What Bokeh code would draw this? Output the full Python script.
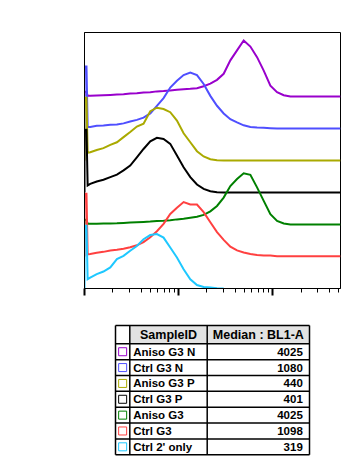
from bokeh.plotting import figure
from bokeh.models import FixedTicker, CustomJSTickFormatter, Range1d
from bokeh.layouts import column
from bokeh.embed import file_html
from bokeh.resources import INLINE
from bokeh.core.properties import value

# ---------------- data ----------------
samples = ["Aniso G3 N", "Ctrl G3 N", "Aniso G3 P", "Ctrl G3 P", "Aniso G3", "Ctrl G3", "Ctrl 2' only"]
medians = [4025, 1080, 440, 401, 4025, 1098, 319]
colors = ["#9900CC", "#4F4FFF", "#AAAA00", "#000000", "#008000", "#FF4040", "#1EC8FF"]

# BL1-A positions of the low-end pile-up bin and of the histogram samples
spike_x = [100, 100, 105, 108]
bl1a_x = [115, 135, 159, 188, 221, 260, 306, 360, 424, 500, 588, 692, 815, 960,
          1130, 1331, 1567, 1845, 2173, 2558, 3012, 3546, 4175, 4915, 5787, 6814,
          8023, 9445, 11120, 13093, 15415, 18150, 21370, 25160, 29620, 34880,
          41070, 48350, 52500]

# normalized counts (peak ~1.75) per sample
spike_heights = [0.15, 1.94, 1.96, 1.96, 0.15, 1.96, 1.96]
first_bins = [0.02, 0.05, 0.24, 0.22, 0.02, 0.07, 0.29]

aniso_g3_n = [0.02, 0.03, 0.04, 0.05, 0.06, 0.07, 0.09, 0.10, 0.125, 0.135, 0.16, 0.17,
              0.19, 0.21, 0.23, 0.24, 0.26, 0.32, 0.40, 0.52, 0.71, 1.13, 1.44, 1.75,
              1.56, 1.23, 0.81, 0.34, 0.135, 0.04, 0, 0, 0, 0, 0, 0, 0, 0, 0]
ctrl_g3_n = [0.05, 0.085, 0.095, 0.115, 0.125, 0.16, 0.22, 0.27, 0.34, 0.47, 0.71, 0.95,
             1.28, 1.49, 1.67, 1.75, 1.67, 1.39, 1.02, 0.71, 0.47, 0.29, 0.19, 0.10,
             0.05, 0.03, 0.02, 0.01, 0, 0, 0, 0, 0, 0, 0, 0, 0, 0, 0]
aniso_g3_p = [0.26, 0.33, 0.385, 0.49, 0.57, 0.73, 0.89, 1.06, 1.15, 1.54, 1.65, 1.61,
              1.51, 1.25, 0.85, 0.57, 0.29, 0.125, 0.04, 0.01, 0, 0, 0, 0, 0, 0, 0,
              0, 0, 0, 0, 0, 0, 0, 0, 0, 0, 0, 0]
ctrl_g3_p = [0.27, 0.345, 0.40, 0.48, 0.56, 0.69, 0.84, 1.10, 1.36, 1.60, 1.71, 1.67,
             1.52, 1.16, 0.79, 0.48, 0.25, 0.115, 0.04, 0.01, 0, 0, 0, 0, 0, 0, 0,
             0, 0, 0, 0, 0, 0, 0, 0, 0, 0, 0, 0]
aniso_g3 = [0.02, 0.025, 0.03, 0.035, 0.04, 0.05, 0.06, 0.07, 0.08, 0.09, 0.11, 0.12,
            0.135, 0.16, 0.18, 0.21, 0.24, 0.30, 0.41, 0.58, 0.84, 1.20, 1.42, 1.60,
            1.55, 1.16, 0.74, 0.32, 0.11, 0.03, 0, 0, 0, 0, 0, 0, 0, 0, 0]
ctrl_g3 = [0.08, 0.115, 0.145, 0.19, 0.21, 0.24, 0.29, 0.35, 0.45, 0.60, 0.79, 1.02,
           1.33, 1.52, 1.70, 1.625, 1.625, 1.385, 1.07, 0.76, 0.52, 0.31, 0.19, 0.125,
           0.08, 0.05, 0.03, 0.03, 0.01, 0.01, 0.01, 0.01, 0.01, 0.01, 0.01, 0.01,
           0.01, 0.01, 0.01]
ctrl_2_only = [0.34, 0.45, 0.53, 0.66, 0.92, 1.02, 1.18, 1.33, 1.54, 1.67, 1.70, 1.59,
               1.28, 0.97, 0.60, 0.29, 0.11, 0.05, 0.03, 0.01, 0]

counts = [aniso_g3_n, ctrl_g3_n, aniso_g3_p, ctrl_g3_p, aniso_g3, ctrl_g3, ctrl_2_only]

major_ticks = [100, 1000, 10000]
minor_ticks = [m * t for t in major_ticks for m in range(2, 10) if m * t <= 52500]

# shared horizontal borders so that both frames line up in the column
BORDER_L, BORDER_R, FRAME_W = 84, 13, 256
WIDTH = BORDER_L + FRAME_W + BORDER_R

# ---------------- histogram overlay ----------------
n = len(samples)
p = figure(width=WIDTH, height=306, x_axis_type="log",
           x_range=Range1d(100, 52500), y_range=Range1d(0, n + 1),
           output_backend="svg", toolbar_location=None,
           min_border_left=BORDER_L, min_border_right=BORDER_R,
           min_border_top=32, min_border_bottom=18)
p.xgrid.visible = False
p.ygrid.visible = False
p.outline_line_color = "black"
p.outline_line_width = 1
p.background_fill_color = "white"
p.border_fill_color = "white"

for i, (h, s, f, c) in enumerate(zip(counts, spike_heights, first_bins, colors)):
    offset = n - 1 - i
    xs = spike_x + bl1a_x[:len(h)]
    ys = [offset + v for v in [0, s, s, f] + h]
    p.line(xs, ys, line_color=c, line_width=2, line_join="miter")

xa = p.xaxis[0]
xa.ticker = FixedTicker(ticks=major_ticks, minor_ticks=minor_ticks)
xa.formatter = CustomJSTickFormatter(code="return ''")
xa.major_label_text_font_size = "1px"
xa.major_label_standoff = 0
xa.axis_line_color = "black"
xa.axis_line_width = 1
xa.major_tick_in = 0
xa.major_tick_out = 7
xa.major_tick_line_width = 2
xa.major_tick_line_color = "black"
xa.minor_tick_in = 0
xa.minor_tick_out = 4
xa.minor_tick_line_width = 1
xa.minor_tick_line_color = "black"

ya = p.yaxis[0]
ya.ticker = FixedTicker(ticks=[])
ya.formatter = CustomJSTickFormatter(code="return ''")
ya.major_label_text_font_size = "1px"
ya.major_tick_out = 0
ya.major_tick_in = 0
ya.minor_tick_out = 0
ya.minor_tick_in = 0
ya.axis_line_color = "black"
ya.axis_line_width = 1

# ---------------- statistics table ----------------
H2 = 162
t = figure(width=WIDTH, height=H2, x_range=Range1d(0, FRAME_W), y_range=Range1d(H2, 0),
           output_backend="svg", toolbar_location=None,
           min_border_left=BORDER_L, min_border_right=BORDER_R,
           min_border_top=0, min_border_bottom=0,
           x_axis_location=None, y_axis_location=None)
t.xgrid.visible = False
t.ygrid.visible = False
t.outline_line_color = None
t.background_fill_color = "white"
t.border_fill_color = "white"

tbl_left, col1, col2, tbl_right = 31, 45.3, 122.7, 225
tbl_top, head_bottom, row_h = 19, 37.3, 15.85
tbl_bottom = head_bottom + n * row_h

t.quad(left=[col1], right=[tbl_right], top=[tbl_top], bottom=[head_bottom],
       fill_color="#E2E2E2", line_color=None)

hy = [tbl_top, head_bottom] + [head_bottom + (k + 1) * row_h for k in range(n)]
t.segment(x0=[tbl_left] * len(hy), x1=[tbl_right] * len(hy), y0=hy, y1=hy,
          line_color="black", line_width=1.5)
vx = [tbl_left, col1, col2, tbl_right]
t.segment(x0=vx, x1=vx, y0=[tbl_top] * 4, y1=[tbl_bottom] * 4,
          line_color="black", line_width=1.5)

head_y = (tbl_top + head_bottom) / 2
t.text(x=[(col1 + col2) / 2, (col2 + tbl_right) / 2], y=[head_y, head_y],
       text=["SampleID", "Median : BL1-A"], text_font=value("Liberation Sans"),
       text_font_style="bold", text_font_size="12.5px", text_align="center",
       text_baseline="middle", text_color="black")

row_y = [head_bottom + (k + 0.5) * row_h for k in range(n)]
t.rect(x=[(tbl_left + col1) / 2] * n, y=row_y, width=8, height=8,
       fill_color=None, line_color=colors, line_width=1)
t.text(x=[col1 + 3.4] * n, y=row_y, text=samples, text_font=value("Liberation Sans"),
       text_font_style="bold", text_font_size="11.5px", text_align="left",
       text_baseline="middle", text_color="black")
t.text(x=[tbl_right - 6.7] * n, y=row_y, text=[str(m) for m in medians],
       text_font=value("Liberation Sans"), text_font_style="bold",
       text_font_size="11.5px", text_align="right", text_baseline="middle",
       text_color="black")

layout = column(p, t, spacing=0)
open("out.html", "w").write(file_html(layout, INLINE))
